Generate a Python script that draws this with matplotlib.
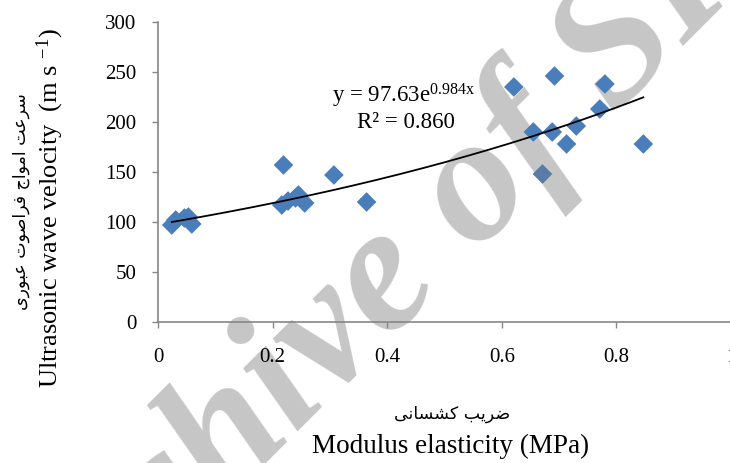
import numpy as np
import matplotlib
matplotlib.use("Agg")
import matplotlib.pyplot as plt

# Measured samples: modulus of elasticity (MPa) vs ultrasonic wave velocity (m/s)
modulus = [0.024, 0.031, 0.046, 0.053, 0.059,
           0.216, 0.219, 0.227, 0.240, 0.245, 0.256,
           0.307, 0.364,
           0.621, 0.655, 0.671, 0.688, 0.692, 0.713, 0.730, 0.771, 0.780, 0.847]
velocity = [97, 102, 104, 105, 98,
            117, 157, 121, 124, 127, 119,
            147, 120,
            235, 190, 148, 190, 246, 178, 196, 213, 238, 178]

# Exponential trend line y = a * exp(b * x)
fit_a = 97.63
fit_b = 0.984
fit_r2 = 0.860

x_ticks = [0, 0.2, 0.4, 0.6, 0.8, 1]
x_tick_labels = ["0", "0.2", "0.4", "0.6", "0.8", "1"]
y_ticks = [0, 50, 100, 150, 200, 250, 300]

title_x_fa = "ضریب کشسانی"
title_x_en = "Modulus elasticity (MPa)"
title_y_fa = "سرعت امواج فراصوت عبوری"
title_y_en = "Ultrasonic wave velocity  (m s $^{\\mathregular{-1}}$)"
watermark = "Archive of SID"

W, H = 730, 463
plt.rcParams["font.family"] = ["Liberation Serif", "DejaVu Sans"]
plt.rcParams["mathtext.fontset"] = "custom"
plt.rcParams["mathtext.rm"] = "Liberation Serif"
plt.rcParams["mathtext.it"] = "Liberation Serif:italic"
plt.rcParams["mathtext.bf"] = "Liberation Serif:bold"

# Contextual forms for the Persian letters used (isolated, final, initial, medial)
_FORMS = {
    "\u0627": ("\uFE8D", "\uFE8E", None, None),
    "\u0628": ("\uFE8F", "\uFE90", "\uFE91", "\uFE92"),
    "\u062A": ("\uFE95", "\uFE96", "\uFE97", "\uFE98"),
    "\u062C": ("\uFE9D", "\uFE9E", "\uFE9F", "\uFEA0"),
    "\u0631": ("\uFEAD", "\uFEAE", None, None),
    "\u0633": ("\uFEB1", "\uFEB2", "\uFEB3", "\uFEB4"),
    "\u0634": ("\uFEB5", "\uFEB6", "\uFEB7", "\uFEB8"),
    "\u0635": ("\uFEB9", "\uFEBA", "\uFEBB", "\uFEBC"),
    "\u0636": ("\uFEBD", "\uFEBE", "\uFEBF", "\uFEC0"),
    "\u0639": ("\uFEC9", "\uFECA", "\uFECB", "\uFECC"),
    "\u0641": ("\uFED1", "\uFED2", "\uFED3", "\uFED4"),
    "\u0645": ("\uFEE1", "\uFEE2", "\uFEE3", "\uFEE4"),
    "\u0646": ("\uFEE5", "\uFEE6", "\uFEE7", "\uFEE8"),
    "\u0648": ("\uFEED", "\uFEEE", None, None),
    "\u06A9": ("\uFB8E", "\uFB8F", "\uFB90", "\uFB91"),
    "\u06CC": ("\uFBFC", "\uFBFD", "\uFBFE", "\uFBFF"),
}


def shape_rtl(text):
    """Join Persian letters into their contextual forms and lay them out right-to-left."""
    out = []
    for i, ch in enumerate(text):
        forms = _FORMS.get(ch)
        if forms is None:
            out.append(ch)
            continue
        prev = text[i - 1] if i > 0 else ""
        nxt = text[i + 1] if i + 1 < len(text) else ""
        joins_prev = prev in _FORMS and _FORMS[prev][2] is not None
        joins_next = forms[2] is not None and nxt in _FORMS
        if joins_prev and joins_next:
            out.append(forms[3])
        elif joins_prev:
            out.append(forms[1])
        elif joins_next:
            out.append(forms[2])
        else:
            out.append(forms[0])
    return "".join(reversed(out))


def fig_xy(px, py):
    return px / W, 1 - py / H


fig = plt.figure(figsize=(W / 100, H / 100), dpi=100)
fig.patch.set_facecolor("white")
ax = fig.add_axes([158 / W, (H - 322) / H, 573 / W, 300 / H])
ax.set_facecolor("none")

marker_colors = ["#4A7EBB"] * len(modulus)
marker_colors[modulus.index(0.671)] = "#5A7BA6"
ax.scatter(modulus, velocity, marker="D", s=100, c=marker_colors,
           edgecolors="none", zorder=3, clip_on=False)

xs = np.linspace(min(modulus), max(modulus), 200)
ax.plot(xs, fit_a * np.exp(fit_b * xs), color="black", lw=1.3, zorder=4)

ax.set_xlim(0, 1)
ax.set_ylim(0, 300)
ax.set_xticks(x_ticks)
ax.set_xticklabels(x_tick_labels)
ax.set_yticks(y_ticks)
for side in ("top", "right"):
    ax.spines[side].set_visible(False)
for side in ("left", "bottom"):
    ax.spines[side].set_color("#868686")
    ax.spines[side].set_linewidth(1.2)
ax.tick_params(axis="both", direction="out", length=4.5, width=1.0,
               color="#868686", labelsize=15, labelcolor="black")
ax.tick_params(axis="x", pad=14)
ax.tick_params(axis="y", pad=11)

eq_text = f"y = {fit_a:.2f}e$^{{\\mathrm{{{fit_b:.3f}x}}}}$"
ax.text(0.429, 219, eq_text, ha="center", va="baseline", fontsize=16.5, zorder=5)
ax.text(0.433, 194, f"R² = {fit_r2:.3f}", ha="center", va="baseline",
        fontsize=16.5, zorder=5)

fig.text(*fig_xy(50, 208), title_y_en, rotation=90, ha="center", va="center",
         fontsize=19)
fig.text(*fig_xy(21, 202), shape_rtl(title_y_fa), rotation=90, ha="center",
         va="center", fontsize=12.5, family=["DejaVu Sans"])
fig.text(*fig_xy(452, 414), shape_rtl(title_x_fa), ha="center", va="center",
         fontsize=12.5, family=["DejaVu Sans"])
fig.text(*fig_xy(451, 453), title_x_en, ha="center", va="baseline", fontsize=19.5)

fig.text(*fig_xy(433, 306), watermark, rotation=45, rotation_mode="anchor",
         ha="center", va="baseline", fontsize=130, fontweight="bold",
         fontstyle="italic", family=["Liberation Serif"], color="#C6C6C6",
         zorder=-1)

fig.savefig("out.png", dpi=100)
